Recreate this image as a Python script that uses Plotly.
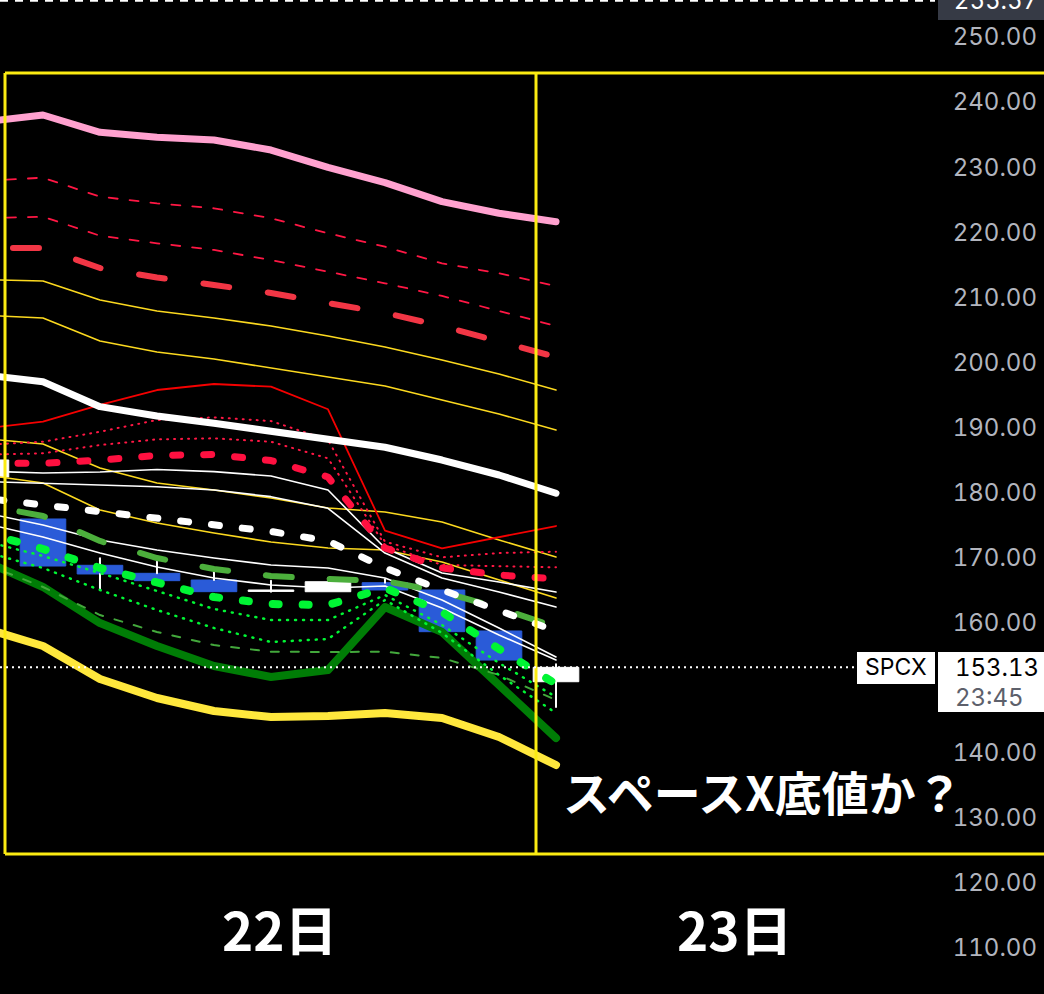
import plotly.graph_objects as go

# ---------------- data ----------------
bars = [-1, 0, 1, 2, 3, 4, 5, 6, 7, 8, 9]

candle_open  = [182.38, 175.93, 168.81, 167.58, 166.55, 164.80, 164.75, 166.14, 165.02, 158.72, 150.92]
candle_high  = [185.00, 175.93, 169.89, 169.37, 167.73, 166.45, 166.81, 166.66, 165.02, 158.72, 153.60]
candle_low   = [182.38, 168.70, 165.02, 166.45, 164.76, 164.76, 164.75, 165.02, 158.61, 154.25, 147.03]
candle_close = [185.00, 168.70, 167.48, 166.45, 164.76, 165.02, 166.29, 165.02, 158.61, 154.25, 153.13]

pink_upper      = [236.99, 238.01, 235.35, 234.59, 234.17, 232.63, 229.97, 227.61, 224.69, 222.91, 221.62]
red_dash_1      = [227.90, 228.38, 225.46, 224.44, 223.67, 222.15, 219.83, 217.77, 215.22, 213.69, 211.73]
red_dash_2      = [222.18, 222.38, 219.46, 218.30, 217.27, 215.73, 213.93, 212.15, 210.20, 207.89, 205.59]
red_thick_dash  = [217.57, 217.57, 214.50, 213.04, 211.89, 210.66, 209.12, 207.59, 205.59, 203.13, 200.82]
yellow_1        = [212.71, 212.50, 209.58, 207.89, 206.82, 205.59, 204.05, 202.36, 200.36, 198.21, 195.75]
yellow_2        = [207.22, 206.82, 203.28, 201.59, 200.52, 199.13, 197.75, 196.37, 194.21, 192.06, 189.61]
white_thick     = [198.05, 197.03, 193.19, 191.76, 190.64, 189.34, 188.07, 186.95, 184.99, 182.69, 179.88]
red_solid       = [189.86, 190.88, 193.45, 195.75, 196.67, 196.26, 192.79, 174.13, 171.42, 173.16, 174.85]
red_dot_1       = [187.34, 187.80, 189.34, 191.14, 191.55, 190.98, 188.07, 172.44, 170.04, 170.70, 170.90]
red_dot_2       = [185.82, 186.02, 187.30, 188.17, 188.33, 187.80, 185.25, 171.93, 168.86, 168.70, 168.50]
red_thick_dot   = [184.48, 184.48, 184.99, 185.69, 185.84, 184.91, 182.38, 171.47, 168.40, 167.32, 166.71]
yellow_3        = [188.27, 187.45, 183.76, 181.46, 180.38, 179.16, 177.62, 177.00, 175.47, 172.70, 170.09]
yellow_4        = [182.68, 181.46, 177.31, 175.31, 173.78, 172.39, 171.47, 171.16, 169.32, 166.55, 163.79]
white_thin_1    = [183.27, 183.00, 183.15, 183.53, 183.20, 182.53, 180.38, 171.47, 167.63, 166.24, 164.71]
white_thin_2    = [181.68, 181.41, 181.15, 180.89, 180.38, 179.36, 177.57, 170.70, 166.86, 164.71, 162.40]
white_thin_3    = [176.84, 175.00, 172.70, 171.16, 169.93, 168.86, 168.40, 166.86, 163.48, 159.18, 154.72]
white_thin_4    = [175.20, 173.16, 170.70, 168.55, 166.86, 165.79, 165.32, 165.63, 162.25, 158.10, 154.26]
white_dashed    = [179.10, 178.08, 176.85, 175.97, 175.00, 174.01, 172.55, 168.40, 165.02, 161.79, 158.72]
green_thick_dash= [178.02, 176.39, 172.55, 169.93, 168.24, 167.17, 166.71, 166.40, 164.71, 162.25, 159.33]
lime_thick_dot  = [173.76, 171.32, 168.40, 166.09, 163.94, 162.86, 162.71, 165.32, 161.64, 155.95, 150.57]
lime_dot_1      = [172.48, 170.24, 167.63, 164.86, 162.10, 160.40, 160.40, 164.25, 159.64, 153.80, 148.57]
lime_dot_2      = [170.84, 168.40, 165.02, 161.94, 159.18, 157.02, 157.49, 163.48, 158.41, 151.95, 146.11]
green_dash_thin = [168.94, 165.48, 161.17, 158.56, 156.56, 155.53, 155.49, 155.53, 154.57, 151.95, 148.11]
dark_green      = [169.35, 165.48, 159.94, 156.41, 153.34, 151.65, 152.72, 162.40, 158.56, 150.26, 142.27]
yellow_thick    = [159.06, 156.41, 151.34, 148.42, 146.42, 145.50, 145.65, 146.11, 145.35, 142.43, 138.12]

y_ticks = [110, 120, 130, 140, 160, 170, 180, 190, 200, 210, 220, 230, 240, 250]
y_tick_labels = ["%.2f" % v for v in y_ticks]
day_labels = ["22日", "23日"]
day_positions = [4.16, 12.14]
symbol = "SPCX"
last_price = 153.13
last_time = "23:45"
session_high = 255.57
headline = "スペースX底値か？"

# ---------------- figure ----------------
fig = go.Figure()

body_colors = ["#ffffff" if c >= o else "#2a5bd8" for o, c in zip(candle_open, candle_close)]
fig.add_trace(go.Bar(
    x=bars, y=[c - o for o, c in zip(candle_open, candle_close)], base=candle_open,
    width=0.8, marker=dict(color=body_colors, line=dict(color=body_colors, width=1)),
    hoverinfo="skip", showlegend=False))

wx, wy = [], []
for b, o, h, l, c in zip(bars, candle_open, candle_high, candle_low, candle_close):
    top, bot = max(o, c), min(o, c)
    if h > top:
        wx += [b, b, None]; wy += [h, top, None]
    if l < bot:
        wx += [b, b, None]; wy += [bot, l, None]
fig.add_trace(go.Scatter(x=wx, y=wy, mode="lines", line=dict(color="#ffffff", width=2),
                         hoverinfo="skip", showlegend=False))

# (values, colour, width, dash, dash offset px)
styles = [
    (yellow_thick,     "#ffe83d", 8,   "solid",     0),
    (dark_green,       "#007d06", 8,   "solid",     0),
    (green_dash_thin,  "#43a83c", 2,   "8px,12px",  0),
    (lime_dot_1,       "#00f534", 2.5, "1px,7px",   0),
    (lime_dot_2,       "#00f534", 2.5, "1px,7px",   0),
    (yellow_1,         "#fcd91f", 1.6, "solid",     0),
    (yellow_2,         "#fcd91f", 1.6, "solid",     0),
    (yellow_3,         "#fcd91f", 1.6, "solid",     0),
    (yellow_4,         "#fcd91f", 1.6, "solid",     0),
    (white_thin_1,     "#ffffff", 1.6, "solid",     0),
    (white_thin_2,     "#ffffff", 1.6, "solid",     0),
    (white_thin_3,     "#ffffff", 1.6, "solid",     0),
    (white_thin_4,     "#ffffff", 1.6, "solid",     0),
    (red_solid,        "#f50000", 1.8, "solid",     0),
    (red_dot_1,        "#ff1744", 2,   "1px,6px",   0),
    (red_dot_2,        "#ff1744", 2,   "1px,6px",   0),
    (red_dash_1,       "#ff1744", 1.8, "9px,12px",  0),
    (red_dash_2,       "#ff1744", 1.8, "9px,12px",  0),
    (red_thick_dash,   "#f23645", 6,   "26px,39px", 38),
    (red_thick_dot,    "#ff1040", 7,   "8px,23px",  30),
    (green_thick_dash, "#4caf3c", 6,   "26px,38px", 30),
    (white_dashed,     "#ffffff", 7,   "8px,23px",  21),
    (lime_thick_dot,   "#00f534", 8,   "6px,24px",  4),
    (white_thick,      "#ffffff", 7,   "solid",     0),
    (pink_upper,       "#ffa1cf", 7,   "solid",     0),
]
offsets = [0]
for vals, color, w, dash, off in styles:
    fig.add_trace(go.Scatter(x=bars, y=vals, mode="lines",
                             line=dict(color=color, width=w, dash=dash),
                             hoverinfo="skip", showlegend=False))
    offsets.append(off)

W, H = 1044, 994
y_lo, y_hi = 102.93, 255.686
px_per = H / (y_hi - y_lo)

def py(pix):  # pixel row -> value (for decorations only)
    return y_hi - pix / px_per

shapes = []
box_col = "#fbeb12"
shapes.append(dict(type="line", xref="paper", yref="y", x0=5 / W, x1=1, y0=py(73), y1=py(73),
                   line=dict(color=box_col, width=3)))
shapes.append(dict(type="line", xref="paper", yref="y", x0=5 / W, x1=1, y0=py(854), y1=py(854),
                   line=dict(color=box_col, width=3)))
shapes.append(dict(type="line", xref="paper", yref="y", x0=5 / W, x1=5 / W, y0=py(73), y1=py(854),
                   line=dict(color=box_col, width=3)))
shapes.append(dict(type="line", xref="paper", yref="y", x0=536 / W, x1=536 / W, y0=py(73), y1=py(854),
                   line=dict(color=box_col, width=3)))
shapes.append(dict(type="line", xref="paper", yref="y", x0=0, x1=935 / W, y0=session_high, y1=session_high,
                   line=dict(color="#ffffff", width=2, dash="8px,7px")))
shapes.append(dict(type="rect", xref="paper", yref="y", x0=938 / W, x1=1, y0=py(20), y1=y_hi + 3,
                   fillcolor="#363a45", line=dict(width=0)))
shapes.append(dict(type="line", xref="paper", yref="y", x0=0, x1=855 / W, y0=last_price, y1=last_price,
                   line=dict(color="#ffffff", width=2, dash="2px,4px")))
shapes.append(dict(type="rect", xref="paper", yref="y", x0=857 / W, x1=935 / W, y0=py(684), y1=py(652),
                   fillcolor="#ffffff", line=dict(width=0)))
shapes.append(dict(type="rect", xref="paper", yref="y", x0=938 / W, x1=1, y0=py(712), y1=py(652),
                   fillcolor="#ffffff", line=dict(width=0)))

ann = []
num_font = "Inter, Roboto, Arial"
ann.append(dict(xref="paper", yref="y", x=996 / W, y=session_high, xanchor="center", yanchor="middle",
                text="%.2f" % session_high, showarrow=False, font=dict(family=num_font, size=24, color="#ffffff")))
ann.append(dict(xref="paper", yref="y", x=896 / W, y=last_price, xanchor="center", yanchor="middle",
                text=symbol, showarrow=False, font=dict(family=num_font, size=23, color="#000000")))
ann.append(dict(xref="paper", yref="y", x=996.5 / W, y=last_price, xanchor="center", yanchor="middle",
                text="%.2f" % last_price, showarrow=False, font=dict(family=num_font, size=24, color="#000000")))
ann.append(dict(xref="paper", yref="y", x=988.5 / W, y=py(697), xanchor="center", yanchor="middle",
                text=last_time, showarrow=False, font=dict(family=num_font, size=24, color="#5d606b")))
for lab, pos in zip(day_labels, day_positions):
    ann.append(dict(xref="x", yref="paper", x=pos, y=1 - 928 / H, xanchor="center", yanchor="middle",
                    text=lab, showarrow=False,
                    font=dict(family="Noto Sans CJK JP", size=53, color="#ffffff", weight="bold")))
ann.append(dict(xref="paper", yref="paper", x=763 / W, y=1 - 790 / H, xanchor="center", yanchor="middle",
                text=headline, showarrow=False,
                font=dict(family="Noto Sans CJK JP", size=47, color="#ffffff", weight="bold")))

fig.update_layout(
    width=W, height=H, margin=dict(l=0, r=0, t=0, b=0),
    paper_bgcolor="#000000", plot_bgcolor="#000000",
    showlegend=False, barmode="overlay",
    shapes=shapes, annotations=ann,
    xaxis=dict(range=[-0.754, 17.561], showgrid=False, zeroline=False, showticklabels=False,
               showline=False, ticks=""),
    yaxis=dict(range=[y_lo, y_hi], side="right", ticklabelposition="inside", ticklabelstandoff=4,
               tickvals=y_ticks, ticktext=y_tick_labels, showgrid=False, zeroline=False,
               showline=False, ticks="", tickfont=dict(family=num_font, size=24, color="#b2b5be")),
)

post = """
var gd = document.getElementById('{plot_id}');
var offs = %s;
gd.querySelectorAll('.scatterlayer .trace').forEach(function(t, i){
  t.querySelectorAll('path.js-line').forEach(function(p){
    p.style.strokeLinecap = 'round'; p.style.strokeLinejoin = 'round';
    if (offs[i]) { p.style.strokeDashoffset = offs[i] + 'px'; }
  });
});
gd.querySelectorAll('text').forEach(function(t){ t.style.fontVariantNumeric = 'tabular-nums'; });
""" % str(offsets)
fig.write_html("out.html", post_script=post)
